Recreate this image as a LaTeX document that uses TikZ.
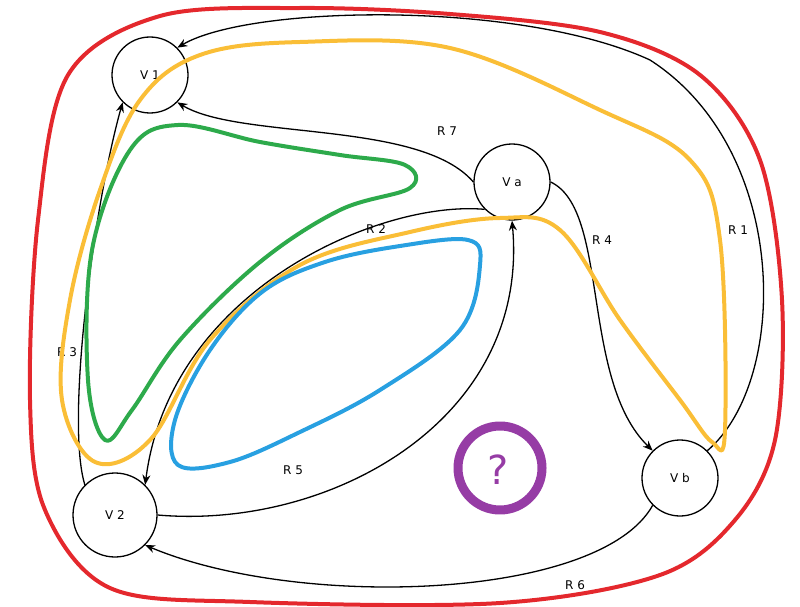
\documentclass[tikz,border=0pt]{standalone}
\usepackage{fontspec}
\setmainfont{DejaVu Sans}
\usetikzlibrary{arrows.meta}
\definecolor{cred}{RGB}{228,40,45}
\definecolor{cyel}{RGB}{250,190,55}
\definecolor{cgrn}{RGB}{45,170,75}
\definecolor{cblu}{RGB}{40,160,225}
\definecolor{cpur}{RGB}{150,60,165}
\begin{document}
\begin{tikzpicture}[x=1pt,y=-1pt,
  vert/.style={circle,draw,line width=1.3pt,fill=white,minimum size=76pt,inner sep=0pt,font=\fontsize{12}{14}\selectfont},
  edge/.style={line width=1.3pt,-{Stealth[length=10pt,width=8pt]}},
  lab/.style={font=\fontsize{12}{14}\selectfont},
  loop/.style={line width=4pt,line cap=round,line join=round}]
\useasboundingbox (0,0) rectangle (800,607);
\node[vert] (v1) at (150,75) {V 1};
\node[vert] (va) at (512,182) {V a};
\node[vert] (vb) at (680,478) {V b};
\node[vert,minimum size=84pt] (v2) at (115,515) {V 2};
% edges
\draw[edge] (vb.north east) .. controls (790,380) and (790,150) .. (650,60) .. controls (520,0) and (250,5) .. (v1.north east);
\draw[edge] (va.west) .. controls (420,120) and (240,140) .. (v1.south east);
\draw[edge] (va.east) .. controls (610,210) and (580,380) .. (vb.north west);
\draw[edge] (va.south west) .. controls (380,200) and (170,290) .. (v2.north east);
\draw[edge] (v2.east) .. controls (330,530) and (530,420) .. (va.south);
\draw[edge] (v2.north west) .. controls (65,420) and (95,200) .. (v1.south west);
\draw[edge] (vb.south west) .. controls (600,600) and (300,610) .. (v2.south east);
\node[lab] (l1) at (738,230) {R 1};
\node[lab] (l7) at (447,131) {R 7};
\node[lab] (l4) at (602,240) {R 4};
\node[lab] (l2) at (376,229) {R 2};
\node[lab] (l5) at (293,470) {R 5};
\node[lab] (l3) at (67,352) {R 3};
\node[lab] (l6) at (575,585) {R 6};
% loops
\draw[loop,cred] plot[smooth cycle,tension=0.55] coordinates {(68,75) (160,16) (300,8) (450,14) (600,32) (700,75) (760,160) (782,300) (775,440) (735,520) (660,575) (500,603) (250,602) (110,588) (45,510) (30,400) (38,220)};
\draw[loop,cyel] plot[smooth cycle,tension=0.6] coordinates {(95,462) (62,400) (70,300) (100,190) (140,100) (200,55) (300,42) (450,48) (600,110) (690,160) (720,240) (725,430) (712,442) (680,400) (620,320) (560,230) (500,218) (410,232) (300,265) (210,340) (150,440)};
\draw[loop,cgrn] plot[smooth cycle,tension=0.6] coordinates {(105,440) (88,380) (92,250) (130,150) (178,125) (260,142) (340,155) (405,165) (410,188) (340,210) (260,262) (180,340) (132,410)};
\draw[loop,cblu] plot[smooth cycle,tension=0.6] coordinates {(178,465) (175,420) (210,350) (262,292) (325,262) (400,246) (468,240) (480,265) (460,330) (380,390) (300,432) (230,462)};
\draw[loop,cpur,line width=9pt] (500,468) circle (42);
\node[cpur,font=\fontsize{40}{40}\selectfont] (q) at (498,470) {?};
\end{tikzpicture}
\end{document}
